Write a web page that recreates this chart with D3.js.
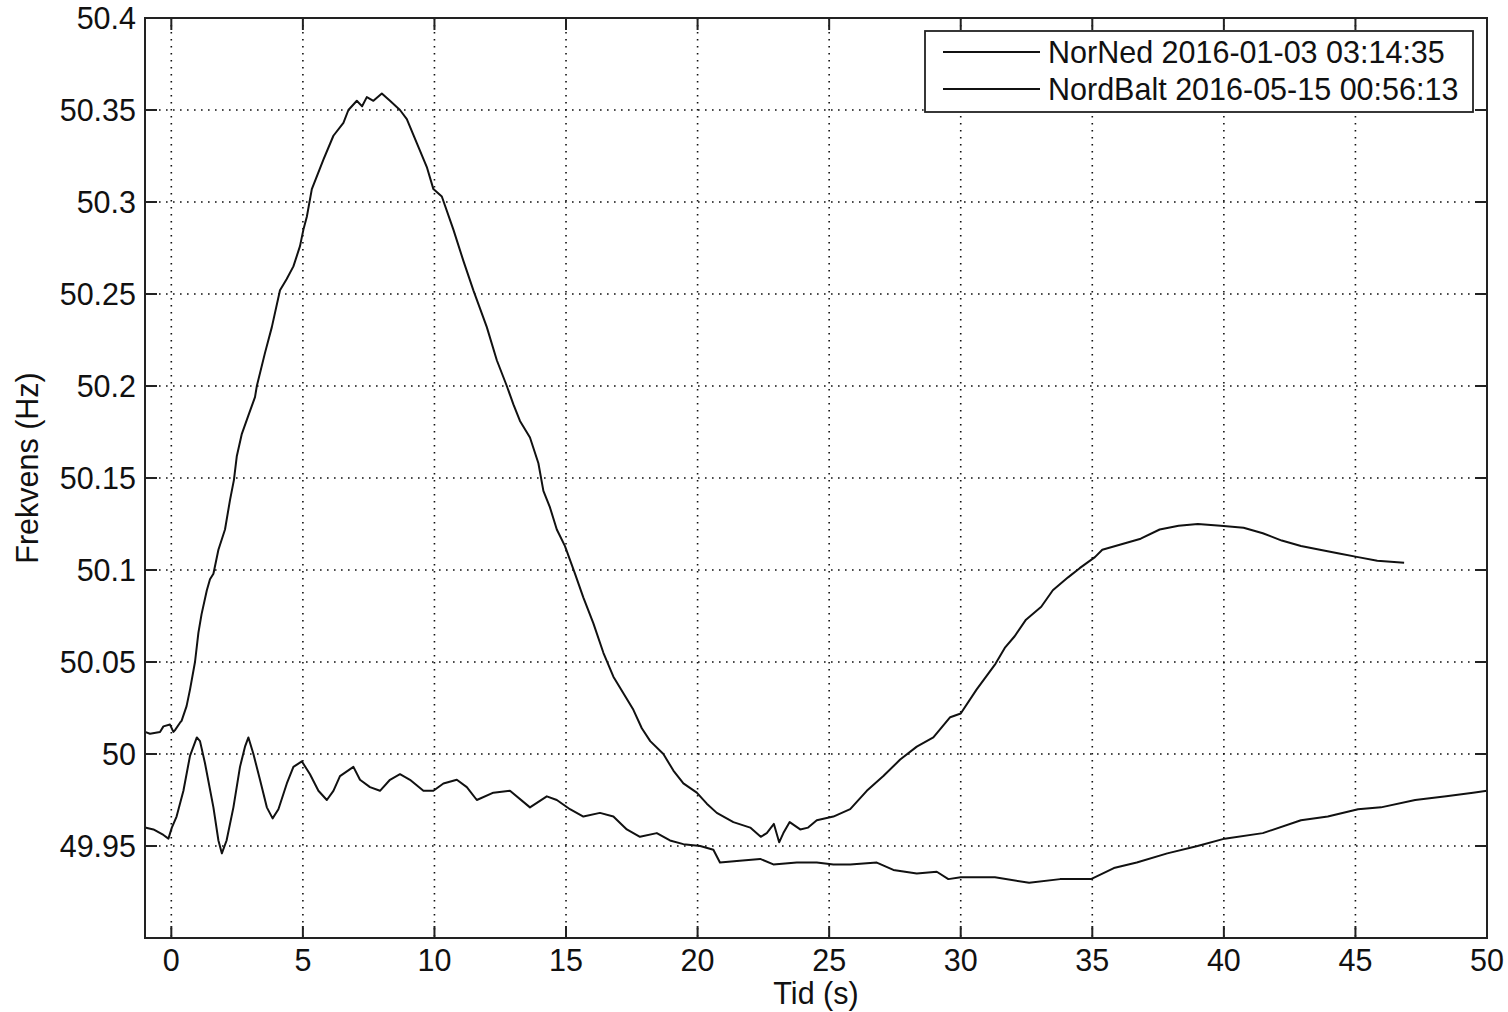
<!DOCTYPE html>
<html>
<head>
<meta charset="utf-8">
<script src="https://cdn.jsdelivr.net/npm/d3@7"></script>
<style>
  body { margin: 0; background: #fff; }
  svg { display: block; font-family: "Liberation Sans", Arial, sans-serif; }
</style>
</head>
<body>
<svg id="chart" width="1508" height="1012"></svg>
<script>
// NorNed trace (time in s, frequency in Hz)
const norNedT = [-1, -0.81, -0.43, -0.3, -0.05, 0.08, 0.14, 0.33, 0.39, 0.58, 0.71, 0.9, 1.03, 1.15, 1.35, 1.47, 1.6, 1.79, 2.04, 2.23, 2.38, 2.49, 2.68, 2.93, 3.18, 3.25, 3.56, 3.82, 4.13, 4.38, 4.64, 4.89, 5.02, 5.15, 5.34, 5.78, 6.16, 6.54, 6.73, 7.05, 7.25, 7.43, 7.68, 8.0, 8.31, 8.69, 8.95, 9.33, 9.71, 9.96, 10.28, 10.72, 11.1, 11.48, 11.99, 12.37, 12.75, 13.0, 13.25, 13.63, 13.95, 14.14, 14.39, 14.65, 14.96, 15.34, 15.66, 16.04, 16.42, 16.8, 17.18, 17.56, 17.88, 18.2, 18.7, 19.08, 19.46, 19.97, 20.35, 20.73, 21.36, 22.0, 22.4, 22.63, 22.9, 23.1, 23.26, 23.5, 23.9, 24.2, 24.53, 25.16, 25.8, 26.43, 27.06, 27.7, 28.33, 28.96, 29.6, 30, 30.6, 31.32, 31.69, 32.05, 32.48, 33.06, 33.5, 34.08, 34.52, 35.1, 35.38, 36.11, 36.84, 37.56, 38.28, 39.01, 39.88, 40.75, 41.48, 42.2, 42.93, 43.65, 44.38, 45.1, 45.83, 46.85];
const norNedF = [50.012, 50.011, 50.012, 50.015, 50.016, 50.012, 50.013, 50.017, 50.018, 50.026, 50.035, 50.05, 50.066, 50.076, 50.089, 50.095, 50.098, 50.111, 50.122, 50.138, 50.149, 50.162, 50.174, 50.184, 50.194, 50.2, 50.218, 50.232, 50.252, 50.258, 50.265, 50.276, 50.285, 50.292, 50.307, 50.323, 50.336, 50.343, 50.35, 50.355, 50.352, 50.357, 50.355, 50.359, 50.355, 50.35, 50.345, 50.332, 50.319, 50.307, 50.303, 50.285, 50.268, 50.252, 50.232, 50.214, 50.2, 50.19, 50.181, 50.172, 50.158, 50.143, 50.134, 50.122, 50.113, 50.098, 50.085, 50.071, 50.055, 50.042, 50.033, 50.024, 50.014, 50.007, 50.0, 49.991, 49.984, 49.979, 49.973, 49.968, 49.963, 49.96, 49.955, 49.957, 49.962, 49.952, 49.957, 49.963, 49.959, 49.96, 49.964, 49.966, 49.97, 49.98, 49.988, 49.997, 50.004, 50.009, 50.02, 50.022, 50.035, 50.049, 50.058, 50.064, 50.073, 50.08, 50.089, 50.096, 50.101, 50.107, 50.111, 50.114, 50.117, 50.122, 50.124, 50.125, 50.124, 50.123, 50.12, 50.116, 50.113, 50.111, 50.109, 50.107, 50.105, 50.104];

// NordBalt trace
const nordBaltT = [-1, -0.68, -0.3, -0.11, 0.02, 0.2, 0.46, 0.71, 0.97, 1.09, 1.28, 1.6, 1.79, 1.92, 2.1, 2.36, 2.61, 2.8, 2.93, 3.12, 3.37, 3.63, 3.85, 4.07, 4.39, 4.64, 4.96, 5.27, 5.59, 5.91, 6.16, 6.41, 6.92, 7.17, 7.55, 7.93, 8.31, 8.69, 9.07, 9.58, 9.96, 10.34, 10.85, 11.23, 11.61, 12.24, 12.87, 13.63, 14.27, 14.65, 15.15, 15.66, 16.29, 16.8, 17.31, 17.81, 18.45, 18.95, 19.46, 20.1, 20.6, 20.85, 21.6, 22.38, 22.88, 23.77, 24.53, 25.16, 25.8, 26.81, 27.44, 28.33, 29.09, 29.53, 30, 31.3, 32.6, 33.78, 34.95, 35.82, 36.69, 37.85, 39.0, 40.03, 41.48, 42.93, 43.95, 45.1, 45.97, 47.27, 48.45, 49.47, 50];
const nordBaltF = [49.96, 49.959, 49.956, 49.954, 49.96, 49.966, 49.98, 49.999, 50.009, 50.007, 49.995, 49.971, 49.953, 49.946, 49.953, 49.971, 49.993, 50.004, 50.009, 50.0, 49.986, 49.971, 49.965, 49.97, 49.984, 49.993, 49.996, 49.989, 49.98, 49.975, 49.98, 49.988, 49.993, 49.986, 49.982, 49.98, 49.986, 49.989, 49.986, 49.98, 49.98, 49.984, 49.986, 49.982, 49.975, 49.979, 49.98, 49.971, 49.977, 49.975, 49.97, 49.966, 49.968, 49.966, 49.959, 49.955, 49.957, 49.953, 49.951, 49.95, 49.948, 49.941, 49.942, 49.943, 49.94, 49.941, 49.941, 49.94, 49.94, 49.941, 49.937, 49.935, 49.936, 49.932, 49.933, 49.933, 49.93, 49.932, 49.932, 49.938, 49.941, 49.946, 49.95, 49.954, 49.957, 49.964, 49.966, 49.97, 49.971, 49.975, 49.977, 49.979, 49.98];

// ticks and labels
const xTicks = [0, 5, 10, 15, 20, 25, 30, 35, 40, 45, 50];
const yTicks = [49.95, 50, 50.05, 50.1, 50.15, 50.2, 50.25, 50.3, 50.35, 50.4];
const yTickLabels = ["49.95", "50", "50.05", "50.1", "50.15", "50.2", "50.25", "50.3", "50.35", "50.4"];
const legendLabels = ["NorNed 2016-01-03 03:14:35", "NordBalt 2016-05-15 00:56:13"];

const svg = d3.select("#chart");
svg.append("rect").attr("width", 1508).attr("height", 1012).attr("fill", "#fff");

// plot box
const boxLeft = 145, boxRight = 1487, boxTop = 18, boxBottom = 938;
const x = d3.scaleLinear().domain([-1, 50]).range([boxLeft, boxRight]);
const y = d3.scaleLinear().domain([49.9, 50.4]).range([boxBottom, boxTop]);

const fontSize = 30.5;
const tickLen = 12;

// dotted grid
const grid = svg.append("g")
  .attr("stroke", "#111")
  .attr("stroke-width", 1.6)
  .attr("stroke-dasharray", "1.6,5.4");
grid.selectAll("line.gx")
  .data(xTicks.filter(d => d < 50))
  .enter().append("line")
    .attr("x1", d => x(d)).attr("x2", d => x(d))
    .attr("y1", boxTop).attr("y2", boxBottom);
grid.selectAll("line.gy")
  .data(yTicks.filter(d => d < 50.4))
  .enter().append("line")
    .attr("x1", boxLeft).attr("x2", boxRight)
    .attr("y1", d => y(d)).attr("y2", d => y(d));

// traces
const line = d3.line()
  .x(d => x(d[0]))
  .y(d => y(d[1]));

const series = [
  norNedT.map((t, i) => [t, norNedF[i]]),
  nordBaltT.map((t, i) => [t, nordBaltF[i]])
];

svg.append("g")
  .selectAll("path")
  .data(series)
  .enter().append("path")
    .attr("d", line)
    .attr("fill", "none")
    .attr("stroke", "#111")
    .attr("stroke-width", 2)
    .attr("stroke-linejoin", "round");

// ticks on all four sides (inside)
const ticks = svg.append("g").attr("stroke", "#222").attr("stroke-width", 2);
xTicks.forEach(d => {
  ticks.append("line").attr("x1", x(d)).attr("x2", x(d)).attr("y1", boxBottom).attr("y2", boxBottom - tickLen);
  ticks.append("line").attr("x1", x(d)).attr("x2", x(d)).attr("y1", boxTop).attr("y2", boxTop + tickLen);
});
yTicks.forEach(d => {
  ticks.append("line").attr("x1", boxLeft).attr("x2", boxLeft + tickLen).attr("y1", y(d)).attr("y2", y(d));
  ticks.append("line").attr("x1", boxRight).attr("x2", boxRight - tickLen).attr("y1", y(d)).attr("y2", y(d));
});

// axes box
svg.append("rect")
  .attr("x", boxLeft).attr("y", boxTop)
  .attr("width", boxRight - boxLeft).attr("height", boxBottom - boxTop)
  .attr("fill", "none")
  .attr("stroke", "#222")
  .attr("stroke-width", 2);

// tick labels
svg.append("g")
  .attr("font-size", fontSize)
  .attr("fill", "#111")
  .attr("text-anchor", "middle")
  .selectAll("text")
  .data(xTicks)
  .enter().append("text")
    .attr("x", d => x(d))
    .attr("y", 971)
    .text(d => d);

svg.append("g")
  .attr("font-size", fontSize)
  .attr("fill", "#111")
  .attr("text-anchor", "end")
  .selectAll("text")
  .data(yTicks)
  .enter().append("text")
    .attr("x", boxLeft - 9)
    .attr("y", d => y(d))
    .attr("dy", "0.36em")
    .text((d, i) => yTickLabels[i]);

// axis titles
svg.append("text")
  .attr("x", (boxLeft + boxRight) / 2)
  .attr("y", 1004)
  .attr("text-anchor", "middle")
  .attr("font-size", fontSize)
  .attr("fill", "#111")
  .text("Tid (s)");

svg.append("text")
  .attr("transform", "translate(38, 468) rotate(-90)")
  .attr("text-anchor", "middle")
  .attr("font-size", fontSize)
  .attr("fill", "#111")
  .text("Frekvens (Hz)");

// legend
const legend = svg.append("g");
legend.append("rect")
  .attr("x", 925).attr("y", 31)
  .attr("width", 548).attr("height", 81)
  .attr("fill", "#fff")
  .attr("stroke", "#222")
  .attr("stroke-width", 1.8);

const items = legend.selectAll("g")
  .data(legendLabels)
  .enter().append("g")
    .attr("transform", (d, i) => `translate(0, ${52 + i * 37})`);

items.append("line")
  .attr("x1", 943).attr("x2", 1040)
  .attr("stroke", "#111")
  .attr("stroke-width", 1.8);

items.append("text")
  .attr("x", 1048)
  .attr("dy", "0.36em")
  .attr("font-size", fontSize)
  .attr("fill", "#111")
  .text(d => d);
</script>
</body>
</html>
